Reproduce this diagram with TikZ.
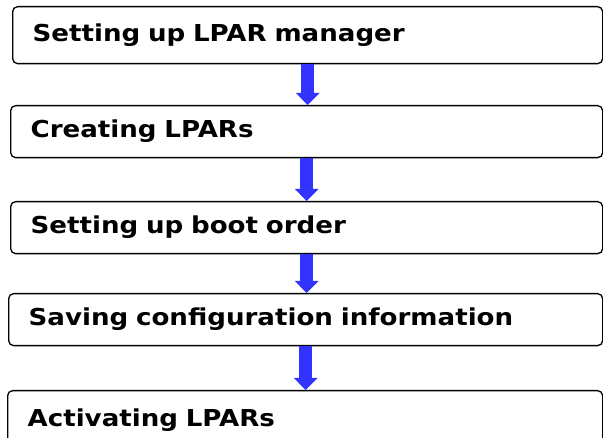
\documentclass[tikz,border=0pt]{standalone}
\usepackage{fontspec}
\usetikzlibrary{arrows.meta}
\newfontfamily\boxfont[FakeStretch=1.12]{DejaVu Sans}
\definecolor{flowblue}{RGB}{51,51,255}
\tikzset{
  stepbox/.style={draw, rounded corners=5pt, line width=1.3pt, anchor=north west,
    inner xsep=20pt, inner ysep=15pt, text height=17pt, text depth=5pt,
    align=left, text width=#1,
    font=\boxfont\bfseries\fontsize{23.3}{27}\selectfont},
  flowarrow/.style={flowblue, line width=12.5pt, -{Triangle[width=23pt, length=12pt]}}
}
\begin{document}
\begin{tikzpicture}[x=1pt, y=-1pt]
\useasboundingbox (0,0) rectangle (603,438);
\clip (0,0) rectangle (603,438);

% Define nodes
\node[stepbox=550pt, minimum height=57pt] (manager) at (12, 6) {Setting up LPAR manager};
\node[stepbox=552pt] (create) at (10, 105) {Creating LPARs};
\node[stepbox=552pt] (boot) at (10, 201) {Setting up boot order};
\node[stepbox=554pt] (save) at (8, 293) {Saving configuration information};
\node[stepbox=555pt, minimum height=60pt, inner ysep=10pt] (activate) at (7, 390) {Activating LPARs};

% Draw arrows between steps (kept vertical)
\draw[flowarrow] (manager.south) -- (manager.south |- create.north);
\draw[flowarrow] (create.south) -- (create.south |- boot.north);
\draw[flowarrow] (boot.south) -- (boot.south |- save.north);
\draw[flowarrow] (save.south) -- (save.south |- activate.north);
\end{tikzpicture}
\end{document}
